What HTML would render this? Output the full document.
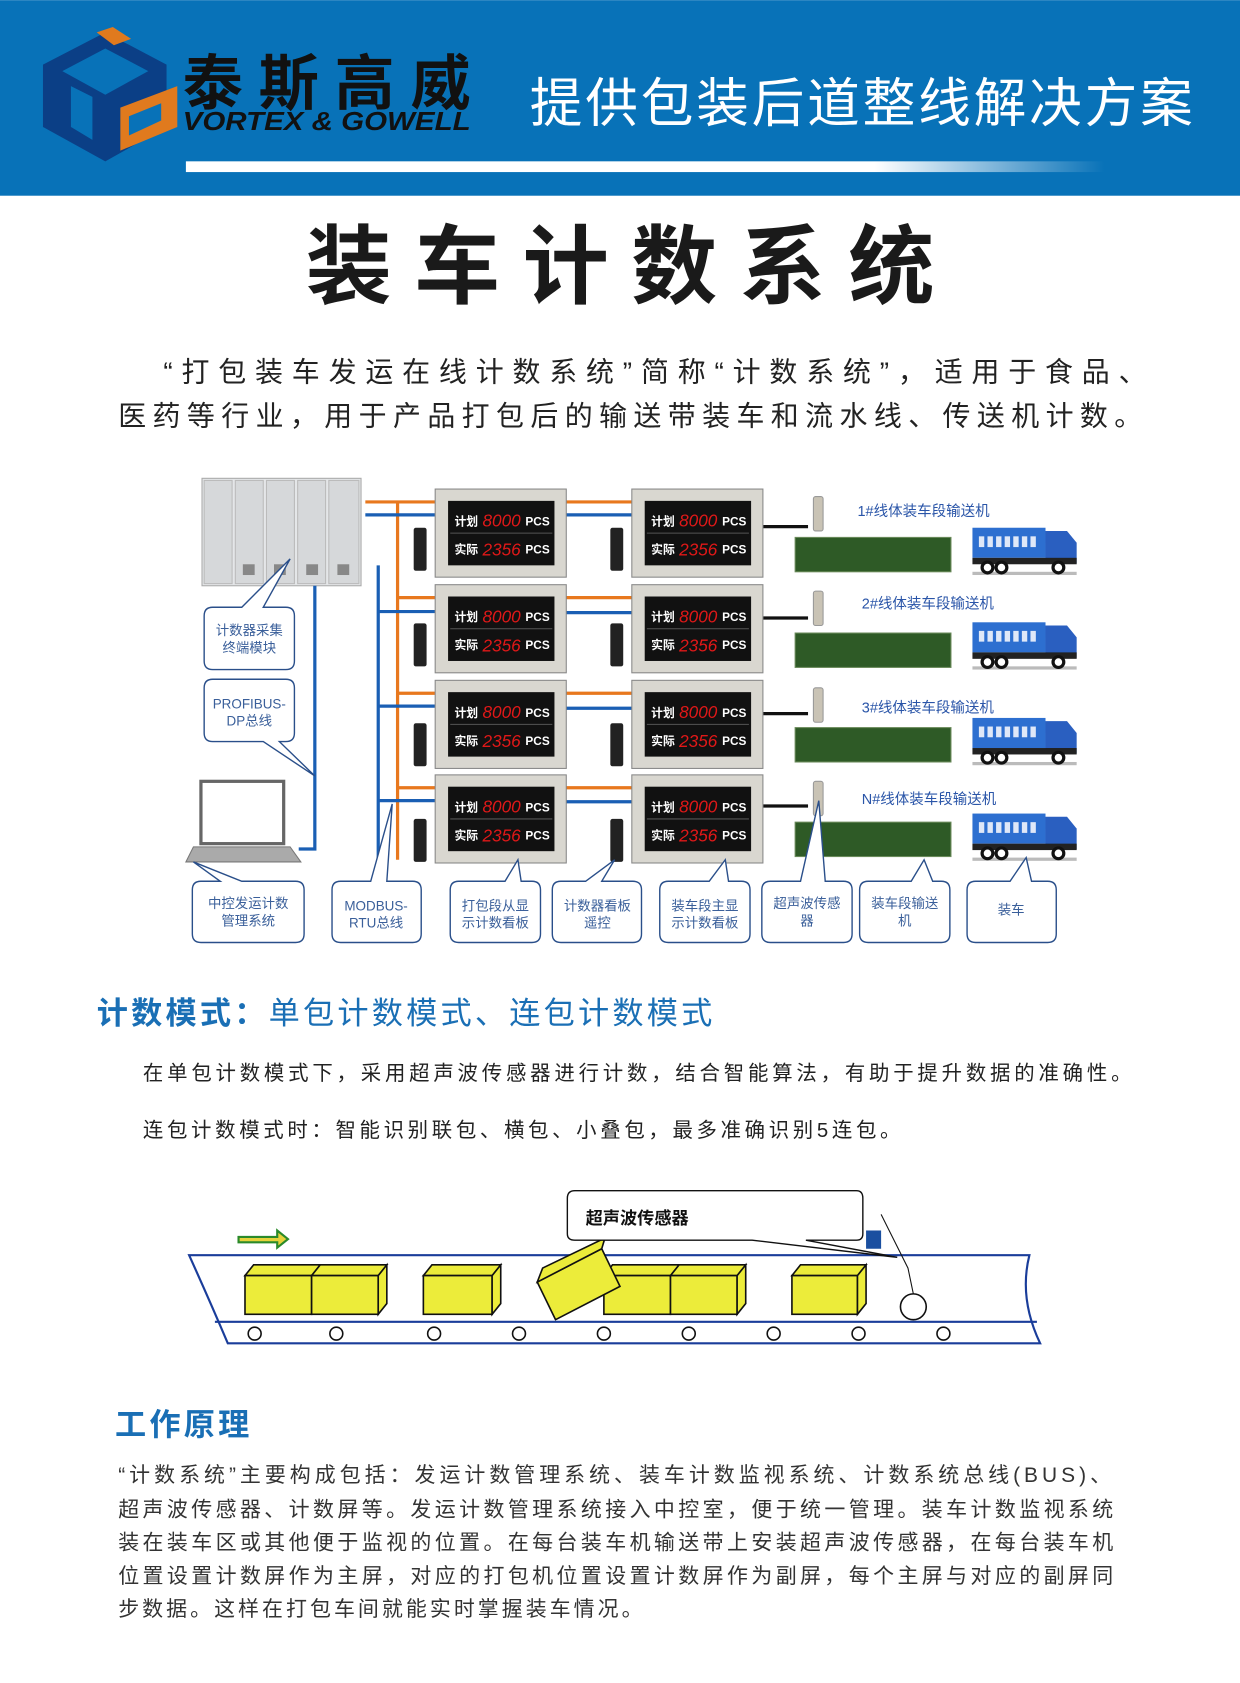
<!DOCTYPE html>
<html><head><meta charset="utf-8"><style>
html,body{margin:0;padding:0;background:#fff}
svg{display:block}
text{font-family:"Liberation Sans","Noto Sans CJK SC",sans-serif}
</style></head><body>
<svg width="1240" height="1683" viewBox="0 0 1154 1566" xmlns="http://www.w3.org/2000/svg">
<rect x="0" y="0" width="1154" height="182" fill="#0872b8"/>
<!-- logo -->
<polygon points="40,60 98,30 155,60 155,118 98,150 40,118" fill="#0b3f86"/>
<polygon points="58,66 98,45 138,66 98,88" fill="#0872b8"/>
<polygon points="66,80 86,90 86,130 66,118" fill="#0872b8"/>
<polygon points="112,100 165,80 165,118 112,140" fill="#e07a1e"/>
<polygon points="120,108 150,96 150,112 120,126" fill="#0872b8"/>
<polygon points="90,30 105,25 122,36 106,42" fill="#e07a1e"/>
<text x="170" y="97" font-size="56" font-weight="bold" fill="#111" textLength="268">泰斯高威</text>
<text x="170" y="121" font-size="24" font-weight="900" font-style="italic" fill="#111" textLength="268" lengthAdjust="spacingAndGlyphs">VORTEX &amp; GOWELL</text>
<text x="493" y="113" font-size="49" fill="#fff" textLength="617">提供包装后道整线解决方案</text>
<defs><linearGradient id="wg" x1="0" x2="1"><stop offset="0" stop-color="#fff"/><stop offset="0.75" stop-color="#fff"/><stop offset="1" stop-color="#fff" stop-opacity="0"/></linearGradient></defs>
<rect x="173" y="150" width="855" height="10" fill="url(#wg)"/>
<!-- title -->
<text x="577" y="276" font-size="80" font-weight="bold" fill="#1a1a1a" text-anchor="middle" textLength="585">装车计数系统</text>
<text x="152" y="355" font-size="26" fill="#222" textLength="915">“打包装车发运在线计数系统”简称“计数系统”，适用于食品、</text>
<text x="110" y="396" font-size="26" fill="#222" textLength="953">医药等行业，用于产品打包后的输送带装车和流水线、传送机计数。</text>

<!-- PLC -->
<rect x="188" y="445" width="148" height="100" fill="#e4e6e8" stroke="#aaa"/>
<g stroke="#bbb" fill="#d6d8da"><rect x="190" y="447" width="26" height="96"/><rect x="219" y="447" width="26" height="96"/><rect x="248" y="447" width="26" height="96"/><rect x="277" y="447" width="26" height="96"/><rect x="306" y="447" width="28" height="96"/></g>
<g fill="#888"><rect x="226" y="525" width="11" height="10"/><rect x="255" y="525" width="11" height="10"/><rect x="285" y="525" width="11" height="10"/><rect x="314" y="525" width="11" height="10"/></g>

<!-- wires -->
<g fill="none" stroke-width="3">
<path d="M340 467 H405 M370 467 V800" stroke="#e8781e"/>
<path d="M340 479 H405 M352 526 V800" stroke="#1a5fb4"/>
<path d="M293 545 V790 H278" stroke="#1a5fb4"/>
<path d="M370 556 H405 M370 645 H405 M370 733 H405" stroke="#e8781e"/>
<path d="M352 569 H405 M352 657 H405 M352 745 H405" stroke="#1a5fb4"/>
<path d="M527 467 H588 M527 556 H588 M527 645 H588 M527 733 H588" stroke="#e8781e"/>
<path d="M527 479 H588 M527 570 H588 M527 659 H588 M527 746 H588" stroke="#1a5fb4"/>
<path d="M710 490 H752 M710 575 H752 M710 664 H752 M710 750 H752" stroke="#111"/>
</g>

<!-- panels -->
<g id="panels">
<g transform="translate(405,455)"><rect width="122" height="82" fill="#d9d7d0" stroke="#888"/><rect x="12" y="11" width="99" height="60" fill="#111"/><line x1="14" y1="41" x2="109" y2="41" stroke="#555"/><text x="18" y="34" font-size="11" font-weight="bold" fill="#fff">计划</text><text x="44" y="35" font-size="16" font-style="italic" fill="#e01818">8000</text><text x="84" y="34" font-size="11" font-weight="bold" fill="#fff">PCS</text><text x="18" y="60" font-size="11" font-weight="bold" fill="#fff">实际</text><text x="44" y="62" font-size="16" font-style="italic" fill="#e01818">2356</text><text x="84" y="60" font-size="11" font-weight="bold" fill="#fff">PCS</text></g>
<g transform="translate(588,455)"><rect width="122" height="82" fill="#d9d7d0" stroke="#888"/><rect x="12" y="11" width="99" height="60" fill="#111"/><line x1="14" y1="41" x2="109" y2="41" stroke="#555"/><text x="18" y="34" font-size="11" font-weight="bold" fill="#fff">计划</text><text x="44" y="35" font-size="16" font-style="italic" fill="#e01818">8000</text><text x="84" y="34" font-size="11" font-weight="bold" fill="#fff">PCS</text><text x="18" y="60" font-size="11" font-weight="bold" fill="#fff">实际</text><text x="44" y="62" font-size="16" font-style="italic" fill="#e01818">2356</text><text x="84" y="60" font-size="11" font-weight="bold" fill="#fff">PCS</text></g>
<g transform="translate(405,544)"><rect width="122" height="82" fill="#d9d7d0" stroke="#888"/><rect x="12" y="11" width="99" height="60" fill="#111"/><line x1="14" y1="41" x2="109" y2="41" stroke="#555"/><text x="18" y="34" font-size="11" font-weight="bold" fill="#fff">计划</text><text x="44" y="35" font-size="16" font-style="italic" fill="#e01818">8000</text><text x="84" y="34" font-size="11" font-weight="bold" fill="#fff">PCS</text><text x="18" y="60" font-size="11" font-weight="bold" fill="#fff">实际</text><text x="44" y="62" font-size="16" font-style="italic" fill="#e01818">2356</text><text x="84" y="60" font-size="11" font-weight="bold" fill="#fff">PCS</text></g>
<g transform="translate(588,544)"><rect width="122" height="82" fill="#d9d7d0" stroke="#888"/><rect x="12" y="11" width="99" height="60" fill="#111"/><line x1="14" y1="41" x2="109" y2="41" stroke="#555"/><text x="18" y="34" font-size="11" font-weight="bold" fill="#fff">计划</text><text x="44" y="35" font-size="16" font-style="italic" fill="#e01818">8000</text><text x="84" y="34" font-size="11" font-weight="bold" fill="#fff">PCS</text><text x="18" y="60" font-size="11" font-weight="bold" fill="#fff">实际</text><text x="44" y="62" font-size="16" font-style="italic" fill="#e01818">2356</text><text x="84" y="60" font-size="11" font-weight="bold" fill="#fff">PCS</text></g>
<g transform="translate(405,633)"><rect width="122" height="82" fill="#d9d7d0" stroke="#888"/><rect x="12" y="11" width="99" height="60" fill="#111"/><line x1="14" y1="41" x2="109" y2="41" stroke="#555"/><text x="18" y="34" font-size="11" font-weight="bold" fill="#fff">计划</text><text x="44" y="35" font-size="16" font-style="italic" fill="#e01818">8000</text><text x="84" y="34" font-size="11" font-weight="bold" fill="#fff">PCS</text><text x="18" y="60" font-size="11" font-weight="bold" fill="#fff">实际</text><text x="44" y="62" font-size="16" font-style="italic" fill="#e01818">2356</text><text x="84" y="60" font-size="11" font-weight="bold" fill="#fff">PCS</text></g>
<g transform="translate(588,633)"><rect width="122" height="82" fill="#d9d7d0" stroke="#888"/><rect x="12" y="11" width="99" height="60" fill="#111"/><line x1="14" y1="41" x2="109" y2="41" stroke="#555"/><text x="18" y="34" font-size="11" font-weight="bold" fill="#fff">计划</text><text x="44" y="35" font-size="16" font-style="italic" fill="#e01818">8000</text><text x="84" y="34" font-size="11" font-weight="bold" fill="#fff">PCS</text><text x="18" y="60" font-size="11" font-weight="bold" fill="#fff">实际</text><text x="44" y="62" font-size="16" font-style="italic" fill="#e01818">2356</text><text x="84" y="60" font-size="11" font-weight="bold" fill="#fff">PCS</text></g>
<g transform="translate(405,721)"><rect width="122" height="82" fill="#d9d7d0" stroke="#888"/><rect x="12" y="11" width="99" height="60" fill="#111"/><line x1="14" y1="41" x2="109" y2="41" stroke="#555"/><text x="18" y="34" font-size="11" font-weight="bold" fill="#fff">计划</text><text x="44" y="35" font-size="16" font-style="italic" fill="#e01818">8000</text><text x="84" y="34" font-size="11" font-weight="bold" fill="#fff">PCS</text><text x="18" y="60" font-size="11" font-weight="bold" fill="#fff">实际</text><text x="44" y="62" font-size="16" font-style="italic" fill="#e01818">2356</text><text x="84" y="60" font-size="11" font-weight="bold" fill="#fff">PCS</text></g>
<g transform="translate(588,721)"><rect width="122" height="82" fill="#d9d7d0" stroke="#888"/><rect x="12" y="11" width="99" height="60" fill="#111"/><line x1="14" y1="41" x2="109" y2="41" stroke="#555"/><text x="18" y="34" font-size="11" font-weight="bold" fill="#fff">计划</text><text x="44" y="35" font-size="16" font-style="italic" fill="#e01818">8000</text><text x="84" y="34" font-size="11" font-weight="bold" fill="#fff">PCS</text><text x="18" y="60" font-size="11" font-weight="bold" fill="#fff">实际</text><text x="44" y="62" font-size="16" font-style="italic" fill="#e01818">2356</text><text x="84" y="60" font-size="11" font-weight="bold" fill="#fff">PCS</text></g>
</g>
<!-- remotes -->
<g fill="#222"><rect x="385" y="491" width="12" height="40" rx="2"/><rect x="568" y="491" width="12" height="40" rx="2"/><rect x="385" y="580" width="12" height="40" rx="2"/><rect x="568" y="580" width="12" height="40" rx="2"/><rect x="385" y="673" width="12" height="40" rx="2"/><rect x="568" y="673" width="12" height="40" rx="2"/><rect x="385" y="762" width="12" height="40" rx="2"/><rect x="568" y="762" width="12" height="40" rx="2"/></g>
<!-- sensors -->
<g fill="#c9c3b5" stroke="#999"><rect x="757" y="462" width="9" height="32" rx="2"/><rect x="757" y="550" width="9" height="32" rx="2"/><rect x="757" y="640" width="9" height="32" rx="2"/><rect x="757" y="727" width="9" height="32" rx="2"/></g>
<!-- conveyors -->
<g fill="#2e5a26" stroke="#6a8a5a"><rect x="740" y="500" width="145" height="32"/><rect x="740" y="589" width="145" height="32"/><rect x="740" y="677" width="145" height="32"/><rect x="740" y="765" width="145" height="32"/></g>
<g font-size="13.5" fill="#2a55a8">
<text x="798" y="480">1#线体装车段输送机</text><text x="802" y="566">2#线体装车段输送机</text><text x="802" y="663">3#线体装车段输送机</text><text x="802" y="748">N#线体装车段输送机</text></g>
<!-- trucks -->
<g id="trucks">
<g transform="translate(905,487)"><rect x="0" y="4" width="68" height="28" fill="#2d6fd0"/><g fill="#dfe8f8"><rect x="6" y="12" width="5" height="10"/><rect x="14" y="12" width="5" height="10"/><rect x="22" y="12" width="5" height="10"/><rect x="30" y="12" width="5" height="10"/><rect x="38" y="12" width="5" height="10"/><rect x="46" y="12" width="5" height="10"/><rect x="54" y="12" width="5" height="10"/></g><path d="M68 7 H88 L97 18 V37 H68 Z" fill="#2a5fc0"/><rect x="0" y="32" width="97" height="6" fill="#222"/><rect x="0" y="45" width="97" height="3" fill="#bbb"/><g fill="#fff" stroke="#111" stroke-width="3"><circle cx="14" cy="41" r="5"/><circle cx="27" cy="41" r="5"/><circle cx="80" cy="41" r="5"/></g></g>
<g transform="translate(905,575)"><rect x="0" y="4" width="68" height="28" fill="#2d6fd0"/><g fill="#dfe8f8"><rect x="6" y="12" width="5" height="10"/><rect x="14" y="12" width="5" height="10"/><rect x="22" y="12" width="5" height="10"/><rect x="30" y="12" width="5" height="10"/><rect x="38" y="12" width="5" height="10"/><rect x="46" y="12" width="5" height="10"/><rect x="54" y="12" width="5" height="10"/></g><path d="M68 7 H88 L97 18 V37 H68 Z" fill="#2a5fc0"/><rect x="0" y="32" width="97" height="6" fill="#222"/><rect x="0" y="45" width="97" height="3" fill="#bbb"/><g fill="#fff" stroke="#111" stroke-width="3"><circle cx="14" cy="41" r="5"/><circle cx="27" cy="41" r="5"/><circle cx="80" cy="41" r="5"/></g></g>
<g transform="translate(905,664)"><rect x="0" y="4" width="68" height="28" fill="#2d6fd0"/><g fill="#dfe8f8"><rect x="6" y="12" width="5" height="10"/><rect x="14" y="12" width="5" height="10"/><rect x="22" y="12" width="5" height="10"/><rect x="30" y="12" width="5" height="10"/><rect x="38" y="12" width="5" height="10"/><rect x="46" y="12" width="5" height="10"/><rect x="54" y="12" width="5" height="10"/></g><path d="M68 7 H88 L97 18 V37 H68 Z" fill="#2a5fc0"/><rect x="0" y="32" width="97" height="6" fill="#222"/><rect x="0" y="45" width="97" height="3" fill="#bbb"/><g fill="#fff" stroke="#111" stroke-width="3"><circle cx="14" cy="41" r="5"/><circle cx="27" cy="41" r="5"/><circle cx="80" cy="41" r="5"/></g></g>
<g transform="translate(905,753)"><rect x="0" y="4" width="68" height="28" fill="#2d6fd0"/><g fill="#dfe8f8"><rect x="6" y="12" width="5" height="10"/><rect x="14" y="12" width="5" height="10"/><rect x="22" y="12" width="5" height="10"/><rect x="30" y="12" width="5" height="10"/><rect x="38" y="12" width="5" height="10"/><rect x="46" y="12" width="5" height="10"/><rect x="54" y="12" width="5" height="10"/></g><path d="M68 7 H88 L97 18 V37 H68 Z" fill="#2a5fc0"/><rect x="0" y="32" width="97" height="6" fill="#222"/><rect x="0" y="45" width="97" height="3" fill="#bbb"/><g fill="#fff" stroke="#111" stroke-width="3"><circle cx="14" cy="41" r="5"/><circle cx="27" cy="41" r="5"/><circle cx="80" cy="41" r="5"/></g></g>
</g>
<!-- laptop -->
<rect x="187" y="727" width="77" height="58" fill="#fff" stroke="#666" stroke-width="3"/>
<polygon points="180,788 270,788 280,802 173,802" fill="#aaa" stroke="#777"/>

<!-- bubbles -->
<g fill="#fff" stroke="#2a4f8a" stroke-width="1.3">
<path d="M198 565 H225 L270 520 L245 565 H266 Q274 565 274 573 V615 Q274 623 266 623 H198 Q190 623 190 615 V573 Q190 565 198 565Z"/>
<path d="M198 632 H266 Q274 632 274 640 V682 Q274 690 266 690 H260 L293 722 L245 690 H198 Q190 690 190 682 V640 Q190 632 198 632Z"/>
<path d="M187 820 H205 L180 802 L225 820 H275 Q283 820 283 828 V869 Q283 877 275 877 H187 Q179 877 179 869 V828 Q179 820 187 820Z"/>
<path d="M317 820 H345 L365 748 L360 820 H384 Q392 820 392 828 V869 Q392 877 384 877 H317 Q309 877 309 869 V828 Q309 820 317 820Z"/>
<path d="M427 820 H470 L482 800 L485 820 H495 Q503 820 503 828 V869 Q503 877 495 877 H427 Q419 877 419 869 V828 Q419 820 427 820Z"/>
<path d="M522 820 H545 L572 800 L560 820 H589 Q597 820 597 828 V869 Q597 877 589 877 H522 Q514 877 514 869 V828 Q514 820 522 820Z"/>
<path d="M622 820 H660 L675 800 L678 820 H690 Q698 820 698 828 V869 Q698 877 690 877 H622 Q614 877 614 869 V828 Q614 820 622 820Z"/>
<path d="M717 820 H745 L762 745 L768 820 H785 Q793 820 793 828 V869 Q793 877 785 877 H717 Q709 877 709 869 V828 Q709 820 717 820Z"/>
<path d="M808 820 H848 L860 800 L868 820 H876 Q884 820 884 828 V869 Q884 877 876 877 H808 Q800 877 800 869 V828 Q800 820 808 820Z"/>
<path d="M908 820 H940 L955 798 L960 820 H975 Q983 820 983 828 V869 Q983 877 975 877 H908 Q900 877 900 869 V828 Q900 820 908 820Z"/>
</g>
<g font-size="12.5" fill="#3a5f9a" text-anchor="middle">
<text x="232" y="591">计数器采集</text><text x="232" y="607">终端模块</text>
<text x="232" y="659">PROFIBUS-</text><text x="232" y="675">DP总线</text>
<text x="231" y="845">中控发运计数</text><text x="231" y="861">管理系统</text>
<text x="350" y="847">MODBUS-</text><text x="350" y="863">RTU总线</text>
<text x="461" y="847">打包段从显</text><text x="461" y="863">示计数看板</text>
<text x="556" y="847">计数器看板</text><text x="556" y="863">遥控</text>
<text x="656" y="847">装车段主显</text><text x="656" y="863">示计数看板</text>
<text x="751" y="845">超声波传感</text><text x="751" y="861">器</text>
<text x="842" y="845">装车段输送</text><text x="842" y="861">机</text>
<text x="941" y="851">装车</text>
</g>

<!-- counting mode -->
<text x="90" y="953" font-size="29" fill="#1a6fb5" font-weight="bold" letter-spacing="3">计数模式：<tspan font-weight="normal">单包计数模式、连包计数模式</tspan></text>
<text x="133" y="1005" font-size="19" fill="#222" textLength="920">在单包计数模式下，采用超声波传感器进行计数，结合智能算法，有助于提升数据的准确性。</text>
<text x="133" y="1058" font-size="19" fill="#222" textLength="705">连包计数模式时：智能识别联包、横包、小叠包，最多准确识别5连包。</text>

<!-- conveyor illustration -->
<g fill="none" stroke="#1a3d9a" stroke-width="2">
<path d="M176 1168 H958 Q948 1208 968 1250 H212 Q195 1210 176 1168Z"/>
<line x1="200" y1="1230" x2="965" y2="1230"/>
</g>
<g fill="#fff" stroke="#111" stroke-width="1.5">
<ellipse cx="237" cy="1241" rx="6" ry="6"/><ellipse cx="313" cy="1241" rx="6" ry="6"/><ellipse cx="404" cy="1241" rx="6" ry="6"/><ellipse cx="483" cy="1241" rx="6" ry="6"/><ellipse cx="562" cy="1241" rx="6" ry="6"/><ellipse cx="641" cy="1241" rx="6" ry="6"/><ellipse cx="720" cy="1241" rx="6" ry="6"/><ellipse cx="799" cy="1241" rx="6" ry="6"/><ellipse cx="878" cy="1241" rx="6" ry="6"/>
</g>
<g fill="#ecec3a" stroke="#111" stroke-width="1.5">
<polygon points="228,1187 290,1187 298,1177 236,1177"/><rect x="228" y="1187" width="62" height="36"/>
<polygon points="290,1187 352,1187 360,1177 298,1177"/><rect x="290" y="1187" width="62" height="36"/><polygon points="352,1187 360,1177 360,1213 352,1223"/>
<polygon points="394,1187 458,1187 466,1177 402,1177"/><rect x="394" y="1187" width="64" height="36"/><polygon points="458,1187 466,1177 466,1213 458,1223"/>
<polygon points="562,1187 624,1187 632,1177 570,1177"/><rect x="562" y="1187" width="62" height="36"/>
<polygon points="624,1187 686,1187 694,1177 632,1177"/><rect x="624" y="1187" width="62" height="36"/><polygon points="686,1187 694,1177 694,1213 686,1223"/>
<polygon points="737,1187 798,1187 806,1177 745,1177"/><rect x="737" y="1187" width="61" height="36"/><polygon points="798,1187 806,1177 806,1213 798,1223"/>
<polygon points="500,1193 560,1162 577,1197 517,1228"/><polygon points="500,1193 560,1162 563,1152 505,1180"/>
</g>
<circle cx="850" cy="1216" r="12" fill="#fff" stroke="#111" stroke-width="1.5"/>
<path d="M820 1130 L845 1180 L850 1204" fill="none" stroke="#111"/>
<rect x="806" y="1145" width="14" height="17" fill="#1a4fa0"/>
<path d="M535 1108 H797 Q803 1108 803 1115 V1148 Q803 1154 797 1154 H750 L835 1170 L700 1154 H535 Q528 1154 528 1148 V1115 Q528 1108 535 1108Z" fill="#fff" stroke="#111" stroke-width="1.3"/>
<text x="545" y="1139" font-size="16" font-weight="bold" fill="#111">超声波传感器</text>
<path d="M222 1151 H258 V1145 L268 1153 L258 1161 V1156 H222Z" fill="#e6d23a" stroke="#2a8a2a" stroke-width="2"/>

<!-- principle -->
<text x="107" y="1336" font-size="29" fill="#1a6fb5" font-weight="bold" letter-spacing="3">工作原理</text>
<g font-size="19.5" fill="#333">
<text x="110" y="1379" textLength="924">“计数系统”主要构成包括：发运计数管理系统、装车计数监视系统、计数系统总线(BUS)、</text>
<text x="110" y="1411" textLength="926">超声波传感器、计数屏等。发运计数管理系统接入中控室，便于统一管理。装车计数监视系统</text>
<text x="110" y="1442" textLength="926">装在装车区或其他便于监视的位置。在每台装车机输送带上安装超声波传感器，在每台装车机</text>
<text x="110" y="1473" textLength="926">位置设置计数屏作为主屏，对应的打包机位置设置计数屏作为副屏，每个主屏与对应的副屏同</text>
<text x="110" y="1504" textLength="488">步数据。这样在打包车间就能实时掌握装车情况。</text>
</g>
</svg>
</body></html>
